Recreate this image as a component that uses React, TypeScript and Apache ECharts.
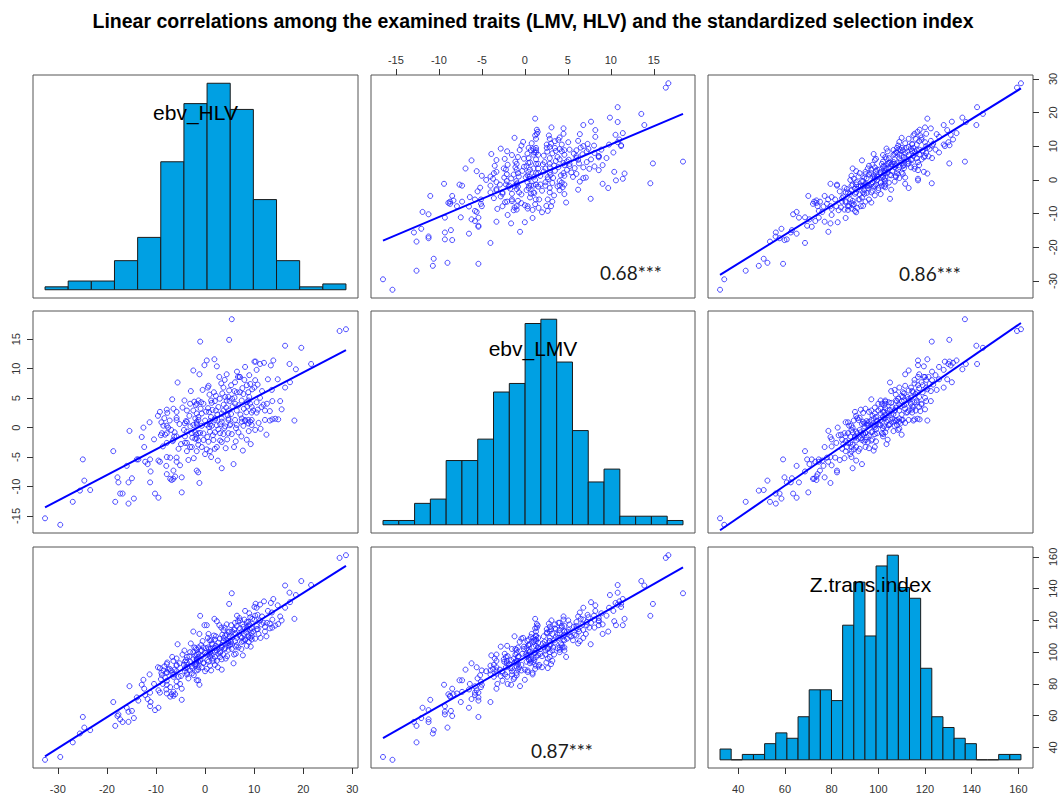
import React, { useEffect, useRef } from "react";
import * as echarts from "echarts";

// [ebv_HLV, ebv_LMV, Z.trans.index]
const points: number[][] = [
  [-32.6,-15.4,32.2],[-29.5,-16.5,34],[-26.95,-12.6,43.2],[-25.5,-10.7,48.8],[-24.6,-9,52.5],[-24.9,-5.4,59.2],[-23.4,-10.6,50.9],
  [-18.7,-4,68.6],
  [-18.3,-12.6,53.6],[-17.3,-11.2,57.7],[-16.8,-11.2,56],[-17.85,-8.45,59.8],[-17.65,-9.3,60.8],[-15.6,-12.9,56.1],[-14.5,-12.05,58.5],[-15.6,-9.3,62.5],[-14.9,-8.6,63],[-15.95,-6.5,65],[-15.4,-0.56,78.6],[-13.9,-5.4,71.5],
  [-13.6,-5.4,69.5],[-12.56,0,82.6],[-12.4,-3.3,77],[-12.2,-5.8,73],[-11.7,-6.2,70.5],[-11.3,0.9,86],[-11.2,-5.4,74.5],[-11.1,-7.45,68.6],[-11.2,-9.3,66],[-10.2,-11.2,63.5],[-9.5,-11.9,65],[-9.5,-5.6,76],[-9.2,-5.8,74.5],[-9.2,2.67,90],[-9.6,2,90.5],[-9,-1.3,83],[-10.4,-2,80],[-12.9,-1.6,79.5],
  [-8.8,-0.95,85.5],[-8.15,-1.2,84],[-7.8,-0.95,87],[-8.5,0.33,88.5],[-7.8,0.33,87.5],[-7.5,0,89],[-7.8,-2.6,82],[-6.6,-2.3,86],[-6.45,-2.06,84.5],[-7.8,-5,79.5],[-7.1,-5.1,78],[-5.8,-5.1,81.5],[-5.8,-5.8,78.5],[-7.9,-6.5,76.5],[-6.45,-7.3,75],[-7.8,-7.9,74],[-6.1,-8.3,73.5],[-4.75,-8.45,77],[-7.1,-8.7,72],[-6.8,-8.9,73.5],[-6.45,-8.7,72.5],[-4.75,-11,70],[-6.2,-0.8,89],[-6.3,-1.5,86],[-5.8,-1.5,88],[-5.8,1.27,91.5],[-4.3,-0.4,92],[-5.6,7.66,105],[-7.8,3.05,92.5],[-7.7,2.5,93.5],[-6.45,3.2,94.5],[-5.8,2.67,96],[-5.8,1.66,92],[-8.3,1.6,91],[-7.2,1.2,89.5],[-6.9,-0.4,88.5],[-5.2,0.6,93],[-4.9,-2.8,85],[-5.4,-3.6,84.5],[-8.6,-3.2,80],[-4.6,3.4,98.5],[-6.7,4.8,97],[-5.1,-6.4,80],[-8.9,0.9,87],
  [-4.1,-1.5,90],[-3.7,-0.67,90.5],[-4.1,0.72,94],[-3.7,1,93.5],[-4.1,-2.6,88],[-3.7,-2.6,87],[-3.05,-3.3,88.5],[-2.7,-3.3,86.5],[-3.7,-4,86],[-1.7,-1.8,92.5],[-1.4,-2.9,89],[-1.7,-4,88.5],[-2.7,-0.95,91],[-1.8,-1.2,93.5],[-1.4,-0.95,94.5],[-2.4,0.44,95.5],[-1.7,0.72,95.5],[-1.7,-7.3,82.3],[-1.4,-7.6,82.3],[-1.15,-9.4,79.5],[-1,14.6,122.9],[-2.4,9.7,113],[-1.15,9.05,111.5],[-4.2,4.6,101],[-3.05,4.05,100],[-2.2,4.4,103],[-1.35,4.6,103],[-1.9,3.8,102.5],[-3.7,2.9,97],[-2.4,2.9,100],[-1.7,2.4,98.5],[-2,1.55,98],[-1.7,1,96],[-3.9,1.1,95],[0.35,11.4,117],[-0.13,10.6,117],[-0.8,4.3,104.5],[-0.33,4.05,103],[-1.7,4.05,101.5],[-0.67,2.4,101],[-1.35,1.8,99],[-1.35,1.3,97],[0,1.2,99.5],[-0.67,0.3,97.5],[-1.7,0.5,95],[0.35,0.5,98.5],[-1,-0.9,94.5],[-0.33,-1,93.5],[-2,-0.8,92.5],[-2,-1.9,91.5],[-1.35,-2.2,90.5],[-0.33,-2.1,93],[-0.67,-3.3,90.5],[0.35,-3.7,89.5],[0,-4.5,88],[-3.2,2,97.5],[-2.9,6.2,105.5],[-0.5,6.4,107],[-3.4,-5.5,83.5],[-2.6,-1.7,90],[-0.9,3.2,101],[0.2,2.7,102.5],[-3,0.2,94],[-2.3,-5.2,85.5],
  [4.9,14.9,130.4],[2.4,10.4,119.5],[4.4,9.05,117.5],[0.7,7.1,111.5],[0.55,6.8,109],[3.3,7.5,115.5],[0.82,2.66,102],[1.23,4.6,107.5],[1.36,4.2,105.5],[2,4.5,108],[2.2,5.4,110],[2.7,3.5,106],[3.4,2.4,104.5],[3.74,6.8,114],[3.74,2.9,107],[4.1,5.2,110.5],[4.42,4.6,111],[4.76,5.2,112.5],[4.76,2.9,107],[5,4.5,110],[2,1.55,102.5],[3.4,1.55,103],[4.76,1.55,106],[1,1.1,99.5],[2,1.3,101],[3.4,1,103.5],[4.76,1.3,104],[1,0.55,100],[1.36,0.3,98],[2.38,0.4,101],[3.06,0.6,100.5],[4.1,0.2,102.5],[5.05,0.4,104.5],[1,-0.7,97.5],[2,-0.8,97],[3.06,-0.95,99.5],[3.74,-1.1,98.5],[4.76,-0.95,101.5],[0.7,-2.4,94],[1.7,-2.1,94.5],[3.06,-2.2,97],[3.4,-2.45,95.5],[1,-4,91.5],[2,-3.6,92],[2.4,-3.3,94.5],[1.23,-5,88.5],[3.4,-6.9,89],[0.45,-1.6,95],[0.6,3.3,103],[1.5,3,105],[2.5,2.2,103],[3,4.9,108.5],[3.8,3.9,109],[4.3,3.4,107.5],[4.9,6.3,113],[1.8,6,110.5],[2.9,8.6,117],[0.9,5.6,107.5],[1.2,1.8,102],[2.7,-0.3,99],[3.9,-0.1,102],[4.5,-2,97.5],[4.2,-3.5,96],[2.6,-5.6,90.5],[1.6,-1.3,96],[0.8,0.1,98.5],[3.5,5.8,111],[4.6,2.1,105.5],[2.2,2.9,104],[1.9,11.6,121],[4,8.1,115.5],
  [5.44,18.4,137.1],[8.15,10.3,126],[6.7,8.6,119.5],[7,8.6,121.5],[7.1,8.6,120],[5.3,7.2,117],[6.1,7.7,118.5],[8.5,7.2,119],[9.2,7.4,122],[8.5,4.3,115.5],[7.8,5.7,116],[7.1,6,115],[8.8,6,119],[9.5,2.55,112],[5.98,6.2,114.5],[6.46,6,116.5],[7.47,4.6,113],[8.83,4.6,116.5],[9.17,4.05,114],[9.5,3.5,115],[9.8,2.9,113],[6.12,4.05,112],[6.46,2.9,109],[7.47,1.55,109],[8.15,1.3,108],[8.83,1.3,110.5],[9.5,1.3,110],[6.1,1.3,107],[7.5,1,106.5],[8.15,1.1,107.5],[9.2,1,109],[5.2,0.6,105],[6.46,0.44,104.5],[7.8,0.3,107],[8.83,0.7,109.5],[9.5,0.44,108],[5.44,-1.1,102],[6.8,-0.8,103],[8.5,-2.06,104],[6.25,-2.34,99],[5.8,-6.2,93],[5.6,3.6,109.5],[6,5.1,114],[6.8,3.8,111],[7.2,2.2,110],[7.9,3.2,111.5],[8.4,2.6,112.5],[9,5.2,117.5],[5.3,2.3,106.5],[6.5,9.5,123],[8,8.1,120.5],[9.6,6.5,121],[7.4,-1.5,102],[8.9,-0.6,106.5],[5.9,-3.3,98.5],[7.7,-3.9,98],[9.3,-2.8,103.5],[6.3,-0.1,103.5],[5.5,4.9,113],[7.6,6.7,117.5],[8.6,3.6,114.5],[9,8.9,124.5],
  [10.3,11.2,130.5],[10.05,11.2,128.5],[11.2,10.8,130],[12,11,132],[13.9,11.4,133.5],[13.4,10.55,131],[10.5,9.8,128],[10.2,8.05,123],[10.7,7.3,123.5],[10.05,6.8,120.5],[13.6,6.4,125],[13.7,4.5,120.5],[11.9,3.9,118.5],[12.6,4.05,118.5],[11.5,3.5,117.5],[12.2,2.9,116],[11.2,5.05,120],[10.5,4.3,116.5],[13.2,2.8,118],[10.5,2.55,114.5],[14.3,1.5,116.8],[13.7,1.4,115.5],[12.2,1.3,113],[13.2,1.2,115],[10.2,-0.4,108.5],[10.73,3.05,114.5],[11.6,6.2,122.5],[12.8,8.2,126],[10.9,0.8,111.5],[12.5,-1.2,110],[11.3,-0.2,109],
  [16.3,13.9,142],[17.2,10.8,137.5],[18.5,9.9,136],[14.8,8.2,129.5],[16.3,6.8,128],[17.3,7.7,131.5],[15.3,4.5,122.5],[18.2,1.2,121],[14.9,1.4,117.7],[15.6,3.1,120],
  [19.6,13.55,144.8],[21.6,10.8,142.3],
  [27.4,16.4,159.4],[28.7,16.7,161.1],
];

const hlvCounts = [1, 3, 3, 10, 18, 44, 64, 71, 62, 31, 10, 1, 2];
const lmvCounts = [1, 1, 5, 6, 15, 15, 20, 31, 33, 47, 48, 38, 22, 10, 13, 2, 2, 2, 1];
const zCounts = [2, 0, 1, 1, 3, 5, 4, 8, 13, 13, 11, 25, 33, 23, 36, 38, 32, 30, 17, 8, 6, 4, 3, 0, 0, 1, 1];

const varNames = ["ebv_HLV", "ebv_LMV", "Z.trans.index"];
const hlvTicks = [-30, -20, -10, 0, 10, 20, 30];
const lmvTicks = [-15, -10, -5, 0, 5, 10, 15];
const zTicks = [40, 60, 80, 100, 120, 140, 160];
const corrLabels = ["0.68***", "0.86***", "0.87***"];
const titleText =
  "Linear correlations among the examined traits (LMV, HLV) and the standardized selection index";

const colX = [33, 371, 708];
const colW = [325, 324, 325];
const rowY = [75, 311, 547];
const rowH = [223, 222, 221];
const corrPos = [
  [631, 272],
  [930, 273],
  [562, 750],
];

export default function App() {
  const ref = useRef<HTMLDivElement>(null);
  useEffect(() => {
    if (!ref.current) return;
    const chart = echarts.init(ref.current, null, { renderer: "svg" });
    const vars = [0, 1, 2].map((c) => points.map((p) => p[c]));
    const counts = [hlvCounts, lmvCounts, zCounts];
    const ticks = [hlvTicks, lmvTicks, zTicks];
    const ext = vars.map((v) => {
      const mn = Math.min(...v);
      const mx = Math.max(...v);
      const pad = (mx - mn) * 0.04;
      return { mn, mx, lo: mn - pad, hi: mx + pad };
    });
    const labelStyle = {
      color: "#333",
      fontSize: 11,
      fontFamily: "Liberation Sans, Arial, sans-serif",
    };
    const tickStyle = { lineStyle: { color: "#333", width: 1 } };
    const hiddenLine = { show: false, onZero: false };
    const grid: any[] = [];
    const xAxis: any[] = [];
    const yAxis: any[] = [];
    const series: any[] = [];
    for (let i = 0; i < 3; i++) {
      for (let j = 0; j < 3; j++) {
        const k = i * 3 + j;
        grid.push({
          left: colX[j],
          top: rowY[i],
          width: colW[j],
          height: rowH[i],
          show: true,
          borderColor: "#555",
          borderWidth: 1,
          backgroundColor: "transparent",
          containLabel: false,
          outerBoundsMode: "none",
        });
        const showTop = i === 0 && j === 1;
        const showBottom = i === 2 && (j === 0 || j === 2);
        const sx = showTop || showBottom;
        xAxis.push({
          type: "value",
          gridIndex: k,
          min: ext[j].lo,
          max: ext[j].hi,
          position: showTop ? "top" : "bottom",
          axisLine: hiddenLine,
          splitLine: { show: false },
          axisTick: { show: sx, customValues: ticks[j], length: 6, inside: false, ...tickStyle },
          axisLabel: { show: sx, customValues: ticks[j], margin: showTop ? 10 : 15, ...labelStyle },
        });
        if (i === j) {
          const M = Math.max(...counts[i]);
          yAxis.push({
            type: "value",
            gridIndex: k,
            min: -0.04 * M,
            max: 1.04 * M,
            show: false,
            axisLine: hiddenLine,
          });
        } else {
          const showLeft = i === 1 && j === 0;
          const showRight = i === 0 && j === 2;
          const sy = showLeft || showRight;
          yAxis.push({
            type: "value",
            gridIndex: k,
            min: ext[i].lo,
            max: ext[i].hi,
            position: showLeft ? "left" : "right",
            axisLine: hiddenLine,
            splitLine: { show: false },
            axisTick: { show: sy, customValues: ticks[i], length: 6, ...tickStyle },
            axisLabel: { show: sy, customValues: ticks[i], rotate: 90, margin: showLeft ? 12 : 14, ...labelStyle },
          });
        }
      }
    }
    // extra Z scale on the right of the bottom-right (diagonal) panel
    yAxis.push({
      type: "value",
      gridIndex: 8,
      min: ext[2].lo,
      max: ext[2].hi,
      position: "right",
      axisLine: hiddenLine,
      splitLine: { show: false },
      axisTick: { show: true, customValues: zTicks, length: 6, ...tickStyle },
      axisLabel: { show: true, customValues: zTicks, rotate: 90, margin: 14, ...labelStyle },
    });

    for (let i = 0; i < 3; i++) {
      for (let j = 0; j < 3; j++) {
        const k = i * 3 + j;
        if (i === j) {
          const c = counts[i];
          const w = (ext[i].mx - ext[i].mn) / c.length;
          const data = c.map((n, b) => [ext[i].mn + b * w, ext[i].mn + (b + 1) * w, n]);
          series.push({
            type: "custom",
            xAxisIndex: k,
            yAxisIndex: k,
            silent: true,
            data,
            renderItem: (params: any, api: any) => {
              const p0 = api.coord([api.value(0), api.value(2)]);
              const p1 = api.coord([api.value(1), 0]);
              return {
                type: "rect",
                shape: { x: p0[0], y: p0[1], width: p1[0] - p0[0], height: p1[1] - p0[1] },
                style: { fill: "#00a0e3", stroke: "#1a1a1a", lineWidth: 1 },
              };
            },
          });
        } else {
          const xs = vars[j];
          const ys = vars[i];
          series.push({
            type: "scatter",
            xAxisIndex: k,
            yAxisIndex: k,
            silent: true,
            symbol: "circle",
            symbolSize: 5,
            itemStyle: { color: "rgba(255,255,255,0)", borderColor: "#1f1fff", borderWidth: 1 },
            data: xs.map((x, n) => [x, ys[n]]),
          });
          const n = xs.length;
          const mx = xs.reduce((a, b) => a + b, 0) / n;
          const my = ys.reduce((a, b) => a + b, 0) / n;
          let sxy = 0;
          let sxx = 0;
          for (let t = 0; t < n; t++) {
            sxy += (xs[t] - mx) * (ys[t] - my);
            sxx += (xs[t] - mx) * (xs[t] - mx);
          }
          const slope = sxy / sxx;
          const icpt = my - slope * mx;
          const x0 = ext[j].mn;
          const x1 = ext[j].mx;
          series.push({
            type: "line",
            xAxisIndex: k,
            yAxisIndex: k,
            silent: true,
            showSymbol: false,
            symbol: "none",
            z: 5,
            lineStyle: { color: "#0000ff", width: 2 },
            data: [
              [x0, icpt + slope * x0],
              [x1, icpt + slope * x1],
            ],
          });
        }
      }
    }

    const graphic: any[] = [
      {
        type: "text",
        x: 533,
        y: 21,
        z: 100,
        style: {
          text: titleText,
          fill: "#000",
          font: "bold 19.5px 'Liberation Sans', Arial, sans-serif",
          textAlign: "center",
          textVerticalAlign: "middle",
        },
      },
    ];
    for (let d = 0; d < 3; d++) {
      graphic.push({
        type: "text",
        x: colX[d] + colW[d] / 2,
        y: rowY[d] + 37.5,
        z: 100,
        style: {
          text: varNames[d],
          fill: "#000",
          font: "21px 'Liberation Sans', Arial, sans-serif",
          textAlign: "center",
          textVerticalAlign: "middle",
        },
      });
    }
    corrLabels.forEach((t, q) => {
      graphic.push({
        type: "text",
        x: corrPos[q][0],
        y: corrPos[q][1],
        z: 100,
        style: {
          text: t,
          fill: "#1a1a1a",
          font: "19px Lato, 'Open Sans', sans-serif",
          textAlign: "center",
          textVerticalAlign: "middle",
        },
      });
    });

    chart.setOption({
      animation: false,
      backgroundColor: "#fff",
      grid,
      xAxis,
      yAxis,
      series,
      graphic,
    });
    return () => chart.dispose();
  }, []);
  return (
    <div
      ref={ref}
      style={{ position: "absolute", left: 0, top: 0, width: 1059, height: 796 }}
    />
  );
}
